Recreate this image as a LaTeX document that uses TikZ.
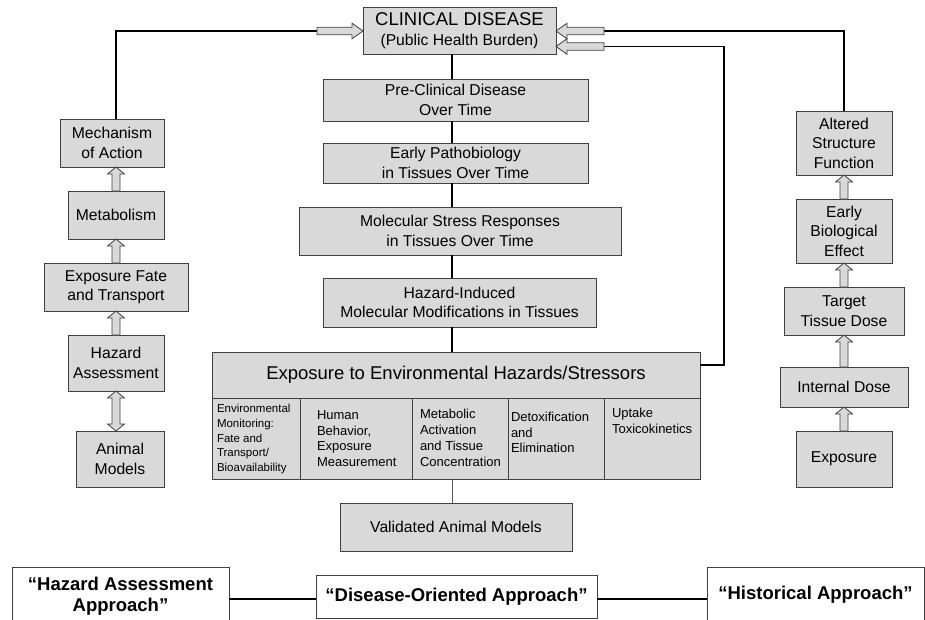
\documentclass[tikz,border=0pt]{standalone}
\usepackage{fontspec}
\setmainfont{Liberation Sans}
\usetikzlibrary{positioning,calc}
\definecolor{boxfill}{HTML}{D9D9D9}
\definecolor{edgegray}{HTML}{404040}
\newcommand{\boxfont}{\fontsize{15.7}{19.5}\selectfont}
\newcommand{\bigfont}{\fontsize{18.5}{22}\selectfont}
\newcommand{\cellfont}{\fontsize{13}{15.7}\selectfont}
\newcommand{\smallcellfont}{\fontsize{11.5}{14.7}\selectfont}
\newcommand{\cellpar}[4]{\parbox[c][81pt][t]{#1pt}{\vspace*{#3pt}\raggedright\leftskip=#2pt\relax #4}}
\newcommand{\hollowv}[2]{%
  \filldraw[hollow] let \p1=(#1), \p2=(#2) in
    (\x1-4pt,\y1) -- (\x1-4pt,\y2-7pt) -- (\x1-8.5pt,\y2-7pt) -- (\x1,\y2)
    -- (\x1+8.5pt,\y2-7pt) -- (\x1+4pt,\y2-7pt) -- (\x1+4pt,\y1) -- cycle;}
\newcommand{\hollowvv}[2]{%
  \filldraw[hollow] let \p1=(#1), \p2=(#2) in
    (\x1,\y1) -- (\x1-8.5pt,\y1+7pt) -- (\x1-4pt,\y1+7pt) -- (\x1-4pt,\y2-7pt)
    -- (\x1-8.5pt,\y2-7pt) -- (\x1,\y2) -- (\x1+8.5pt,\y2-7pt) -- (\x1+4pt,\y2-7pt)
    -- (\x1+4pt,\y1+7pt) -- (\x1+8.5pt,\y1+7pt) -- cycle;}
\newcommand{\hollowh}[2]{%
  \filldraw[hollow] let \p1=(#1), \p2=(#2), \n1={sign(\x2-\x1)} in
    (\x1,\y2+3.7pt) -- ({\x2-(\n1)*11pt},\y2+3.7pt) -- ({\x2-(\n1)*11pt},\y2+7.8pt) -- (\x2,\y2)
    -- ({\x2-(\n1)*11pt},\y2-7.8pt) -- ({\x2-(\n1)*11pt},\y2-3.7pt) -- (\x1,\y2-3.7pt) -- cycle;}

\begin{document}
\begin{tikzpicture}[x=1pt,y=-1pt,node distance=24pt,
    box/.style={draw=edgegray,fill=boxfill,line width=0.8pt,inner sep=0pt,outer sep=0pt,align=center,font=\boxfont},
    cell/.style={draw=edgegray,fill=boxfill,line width=0.8pt,inner sep=0pt,outer sep=0pt,font=\cellfont},
    approach/.style={draw=edgegray,fill=white,line width=0.8pt,inner sep=0pt,outer sep=0pt,align=center,font={\fontsize{18.5}{21}\selectfont\bfseries}},
    conn/.style={line width=1.6pt,black},
    hollow/.style={draw=edgegray,fill=boxfill,line width=0.8pt}]
  \useasboundingbox (0,0) rectangle (925,619);
  \clip (0,0) rectangle (925,619);
  \coordinate (spine) at (452,0);
  \coordinate (lspine) at (116,0);

  \node[box,minimum width=193pt,minimum height=47pt] (clin) at (459.5,30.5) {{\bigfont CLINICAL DISEASE}\\(Public Health Burden)};
  \node[box,minimum width=265pt,minimum height=42pt] (preclin) at (455.5,100) {Pre-Clinical Disease\\Over Time};
  \node[box,minimum width=265pt,minimum height=40pt,below=22pt of preclin] (earlypath) {Early Pathobiology\\in Tissues Over Time};
  \node[box,minimum width=322pt,minimum height=48pt] (molstress) at (460,231) {Molecular Stress Responses\\in Tissues Over Time};
  \node[box,minimum width=273pt,minimum height=49pt] (hazind) at (459.5,302.5) {Hazard-Induced\\Molecular Modifications in Tissues};
  \node[box,minimum width=488pt,minimum height=46pt,font=\bigfont] (expo) at (456,375) {Exposure to Environmental Hazards/Stressors};
  \node[cell,anchor=north west,font=\smallcellfont] (envmon) at (expo.south west) {\cellpar{88}{5}{6.5}{Environmental\\Monitoring:\\Fate and\\Transport/\\Bioavailability}};
  \node[cell,right=0pt of envmon] (behav) {\cellpar{112}{17}{12.5}{Human\\Behavior,\\Exposure\\Measurement}};
  \node[cell,right=0pt of behav] (metact) {\cellpar{96}{8}{11.5}{Metabolic\\Activation\\and Tissue\\Concentration}};
  \node[cell,right=0pt of metact] (detox) {\cellpar{96}{3}{14}{Detoxification\\and\\Elimination}};
  \node[cell,right=0pt of detox] (uptake) {\cellpar{96}{8}{10.5}{Uptake\\Toxicokinetics}};
  \node[box,minimum width=232pt,minimum height=48pt] (valid) at (456,527) {Validated Animal Models};

  \node[box,minimum width=104pt,minimum height=48pt] (mech) at (112,143) {Mechanism\\of Action};
  \node[box,minimum width=96pt,minimum height=48pt,below=of mech,xshift=4pt] (metab) {Metabolism};
  \node[box,minimum width=144pt,minimum height=48pt,below=of metab] (fate) {Exposure Fate\\and Transport};
  \node[box,minimum width=96pt,minimum height=56pt,below=of fate] (hazass) {Hazard\\Assessment};
  \node[box,minimum width=88pt,minimum height=56pt,below=40pt of hazass,xshift=4pt] (animal) {Animal\\Models};

  \node[box,minimum width=96pt,minimum height=64pt] (altered) at (844,143) {Altered\\Structure\\Function};
  \node[box,minimum width=96pt,minimum height=64pt,below=of altered] (earlybio) {Early\\Biological\\Effect};
  \node[box,minimum width=120pt,minimum height=48pt,below=of earlybio] (target) {Target\\Tissue Dose};
  \node[box,minimum width=128pt,minimum height=40pt,below=32pt of target] (internal) {Internal Dose};
  \node[box,minimum width=96pt,minimum height=56pt,below=of internal] (exposure) {Exposure};

  \node[approach,minimum width=217pt,minimum height=58pt] (hazapp) at (120.5,596) {“Hazard Assessment\\Approach”};
  \node[approach,minimum width=281pt,minimum height=43pt] (disapp) at (456.5,596.5) {“Disease-Oriented Approach”};
  \node[approach,minimum width=217pt,minimum height=56pt] (histapp) at (815.5,595) {“Historical Approach”};

  \coordinate (ltail) at (317,31);
  \coordinate (rtail) at (604,31);
  \coordinate (rtailb) at (604,46.5);
  \coordinate (rbend) at (724,365);

  \foreach \a/\b in {clin/preclin,preclin/earlypath,earlypath/molstress,molstress/hazind,hazind/expo}
    \draw[conn] (\a.south -| spine) -- (\b.north -| spine);
  \draw[line width=1pt,black!65] (metact.south -| spine) -- (valid.north -| spine);
  \draw[conn] (mech.north -| lspine) |- (ltail);
  \draw[conn] (altered.north) |- (rtail);
  \draw[conn] (expo.east |- rbend) -- (rbend) |- (rtailb);
  \draw[conn] ([yshift=-2.5pt]disapp.west) -- ([yshift=-2.5pt]disapp.west -| hazapp.east);
  \draw[conn] ([yshift=-2.5pt]disapp.east) -- ([yshift=-2.5pt]disapp.east -| histapp.west);

  \hollowh{ltail}{clin.west |- ltail}
  \hollowh{rtail}{clin.east |- rtail}
  \hollowh{rtailb}{clin.east |- rtailb}
  \foreach \a/\b in {metab/mech,fate/metab,hazass/fate}
    {\hollowv{\a.north -| lspine}{\b.south -| lspine}}
  \hollowvv{animal.north -| lspine}{hazass.south -| lspine}
  \foreach \a/\b in {earlybio/altered,target/earlybio,internal/target,exposure/internal}
    {\hollowv{\a.north}{\b.south}}
\end{tikzpicture}
\end{document}
